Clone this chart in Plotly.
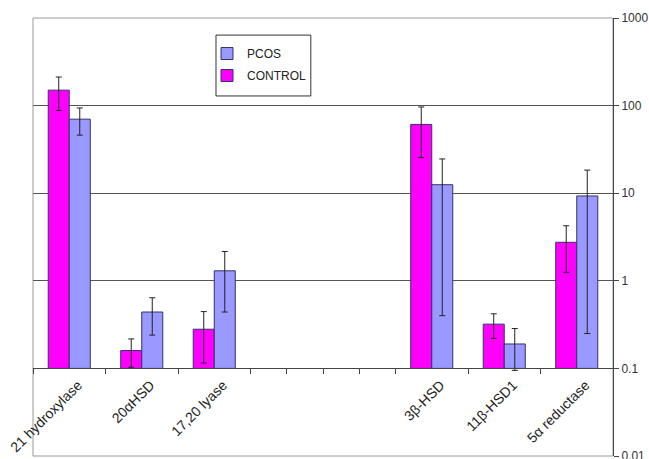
import plotly.graph_objects as go

# Enzyme activity ratios, PCOS vs CONTROL (log scale, bars rise from 0.1)
enzymes = ["21 hydroxylase", "20\u03b1HSD", "17,20 lyase", "3\u03b2-HSD", "11\u03b2-HSD1", "5\u03b1 reductase"]
slot = [0, 1, 2, 5, 6, 7]          # category slot of each enzyme on the axis
control = [150, 0.16, 0.28, 61, 0.32, 2.75]
control_err = [62, 0.057, 0.165, 35.5, 0.10, 1.5]
pcos = [70, 0.44, 1.3, 12.5, 0.19, 9.3]
pcos_err = [24, 0.20, 0.86, 12.1, 0.095, 9.05]
slot_edges = [0, 1, 2, 3, 3.5, 4, 4.5, 5, 6, 7, 8]
y_ticks = [0.01, 0.1, 1, 10, 100, 1000]
grid_vals = [1, 10, 100]

BASE = 0.1
BAR_W = 0.29
centers = [s + 0.5 for s in slot]

fig = go.Figure()

# bars
fig.add_trace(go.Bar(
    name="CONTROL", x=centers, y=[v - BASE for v in control], base=BASE,
    offset=-BAR_W, width=BAR_W, legendgroup="control", legendrank=2,
    marker=dict(color="#FF00FF", line=dict(color="#333366", width=1)),
    xaxis="x", yaxis="y",
))
fig.add_trace(go.Bar(
    name="PCOS", x=centers, y=[v - BASE for v in pcos], base=BASE,
    offset=0, width=BAR_W, legendgroup="pcos", legendrank=1,
    marker=dict(color="#9999FF", line=dict(color="#333366", width=1)),
    xaxis="x", yaxis="y",
))

# error bars drawn at the bar tops
err_style = dict(type="data", thickness=1, width=3, color="#222222")
fig.add_trace(go.Scatter(
    x=[c - BAR_W / 2 for c in centers], y=control, mode="markers",
    marker=dict(size=1, opacity=0), showlegend=False, hoverinfo="skip",
    error_y=dict(array=control_err, **err_style), xaxis="x", yaxis="y",
))
fig.add_trace(go.Scatter(
    x=[c + BAR_W / 2 for c in centers], y=pcos, mode="markers",
    marker=dict(size=1, opacity=0), showlegend=False, hoverinfo="skip",
    error_y=dict(array=pcos_err, **err_style), xaxis="x", yaxis="y",
))

axis_pos = 0.2   # paper height of the 0.1 level on a 0.01..1000 log axis

fig.update_layout(
    width=649, height=459,
    margin=dict(l=33, r=36, t=18, b=3, autoexpand=False),
    paper_bgcolor="white", plot_bgcolor="white",
    font=dict(family="Liberation Sans, Arial, sans-serif", size=12, color="#222222"),
    barmode="overlay",
    showlegend=True,
    legend=dict(
        x=0.300, y=0.952, xanchor="left", yanchor="top",
        traceorder="grouped", tracegroupgap=3,
        borderwidth=0, bgcolor="rgba(0,0,0,0)", font=dict(size=12),
    ),
    xaxis=dict(
        range=[0, 8], anchor="free", position=axis_pos, automargin=False,
        tickmode="array", tickvals=slot_edges, showticklabels=False,
        ticks="outside", ticklen=5, tickcolor="#444444",
        showline=True, linecolor="#444444", linewidth=1,
        showgrid=False, zeroline=False, fixedrange=True,
    ),
    xaxis2=dict(
        range=[-0.12, 7.88], overlaying="x", anchor="free", position=axis_pos, automargin=False,
        tickmode="array", tickvals=centers, ticktext=enzymes,
        tickangle=-45, ticks="", showline=False, showgrid=False,
        zeroline=False, tickfont=dict(size=14, color="#222222"), ticklabelstandoff=5,
    ),
    yaxis=dict(
        type="log", range=[-2, 3], side="right", anchor="x", automargin=False,
        tickmode="array", tickvals=y_ticks, ticktext=["0.01", "0.1", "1", "10", "100", "1000"],
        ticks="outside", ticklen=5, tickcolor="#444444",
        showline=True, linecolor="#444444", linewidth=1, ticklabeloverflow="allow",
        showgrid=False, zeroline=False, tickfont=dict(size=12, color="#333333"),
    ),
    yaxis2=dict(
        type="log", range=[-2, 3], overlaying="y", anchor="x", automargin=False,
        tickmode="array", tickvals=grid_vals, showticklabels=False,
        showgrid=True, gridcolor="#555555", gridwidth=1,
        showline=False, zeroline=False, ticks="",
    ),
    shapes=[
        # plot-area frame
        dict(type="rect", xref="paper", yref="paper", x0=0, x1=1, y0=0, y1=1,
             line=dict(color="#9a9a9a", width=1), layer="below"),
        # legend frame
        dict(type="rect", xref="paper", yref="paper", x0=0.3155, x1=0.479, y0=0.822, y1=0.961,
             line=dict(color="#333333", width=1), fillcolor="white", layer="above"),
    ],
)

# a dummy trace on the overlay axes so they get drawn
fig.add_trace(go.Scatter(x=[None], y=[None], xaxis="x2", yaxis="y2", showlegend=False))

fig.write_html("out.html")
